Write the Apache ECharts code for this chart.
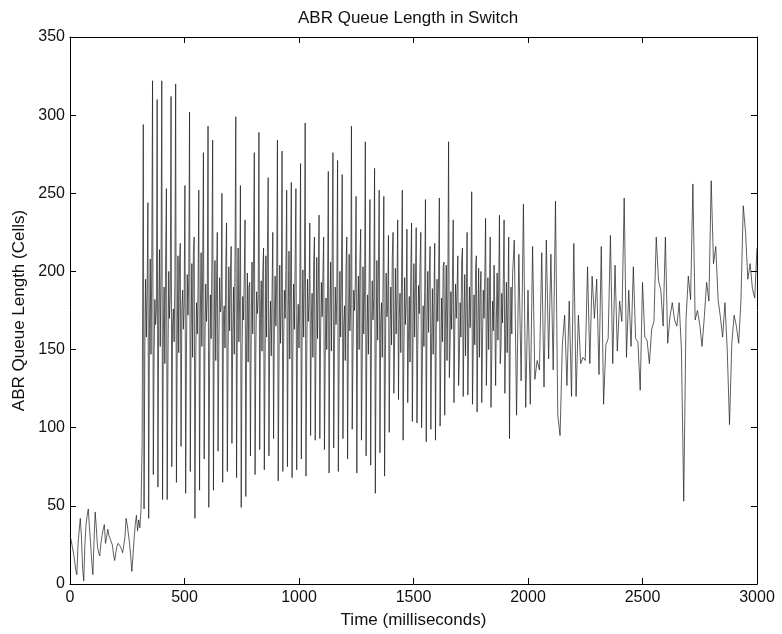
<!DOCTYPE html>
<html>
<head>
    <meta charset="utf-8">
    <title>ABR Queue Length in Switch</title>
    <script src="https://cdn.jsdelivr.net/npm/echarts@6/dist/echarts.min.js"></script>
    <style>
        * {
            margin: 0;
            padding: 0;
        }
        body, html {
            background: #fff;
        }
        #main {
            width: 782px;
            height: 634px;
        }
    </style>
</head>
<body>
<div id="main"></div>
<script>
    // start-up phase, one sample every 5 ms from 0 ms
    var START_STEP = 5;
    var startQueue = [
        31, 28, 24, 20, 15, 9, 6, 25, 34, 42,
        30, 10, 2, 25, 38, 44, 48, 36, 26, 14,
        6, 28, 46, 36, 24, 20, 18, 26, 31, 35,
        38, 26, 30, 35, 31, 29, 27, 25, 19, 15,
        20, 24, 26, 26, 24, 22, 20, 19, 30, 42,
        38, 32, 26, 18, 8, 18, 29, 38, 44, 34,
        41, 36, 47, 90
    ];

    // oscillating phase: each cycle = peak, trough, then four values jittering in the middle band
    var CYCLE_START = 320;
    var CYCLE_MS = 20.2;
    var cycleHigh = [
        294, 244, 322, 310, 322, 253, 312, 320, 218, 255,
        302, 222, 252, 276, 293, 284, 225, 250, 231, 216,
        299, 255, 233, 193, 276, 289, 215, 260, 225, 284,
        277, 252, 257, 253, 269, 295, 231, 222, 236, 222,
        264, 276, 271, 262, 222, 293, 248, 227, 283, 246,
        266, 252, 248, 223, 225, 233, 252, 227, 231, 228,
        225, 246, 216, 218, 247, 206, 283, 233, 210, 215,
        225, 251, 210, 200, 234, 222, 175, 236, 233, 222
    ];
    var cycleLow = [
        48, 42, 70, 62, 54, 54, 75, 65, 88, 58,
        72, 42, 60, 80, 49, 60, 85, 65, 72, 90,
        68, 49, 56, 82, 70, 86, 73, 82, 93, 66,
        72, 75, 68, 73, 80, 69, 95, 92, 93, 86,
        71, 87, 72, 93, 80, 99, 71, 92, 82, 76,
        58, 84, 69, 97, 122, 118, 92, 116, 104, 103,
        100, 91, 99, 92, 101, 108, 132, 116, 127, 120,
        121, 115, 110, 116, 127, 113, 127, 141, 122, 93
    ];
    var cycleMidA = [
        150, 162, 145, 170, 158, 140, 166, 152, 175, 148,
        160, 143, 171, 155, 138, 164, 150, 172, 146, 159,
        168, 141, 155, 163, 150, 170, 144, 158, 166, 139,
        152, 174, 147, 161, 156, 143, 169, 150, 160, 145,
        172, 153, 140, 165, 158, 148, 170, 144, 157, 163,
        151, 168, 142, 160, 155, 171, 146, 158, 164, 150,
        143, 167, 156, 160, 148, 172, 154, 162, 145, 169,
        158, 150, 166, 155, 161, 147, 170, 152, 160, 158
    ];
    var cycleMidB = [
        195, 208, 182, 214, 190, 200, 176, 210, 188, 198,
        205, 180, 212, 192, 185, 207, 196, 178, 203, 190,
        215, 184, 199, 206, 187, 194, 210, 181, 197, 204,
        188, 213, 192, 179, 201, 195, 186, 209, 193, 183,
        206, 190, 200, 178, 211, 188, 197, 203, 185, 194,
        207, 180, 199, 190, 202, 186, 196, 184, 205, 191,
        178, 200, 189, 195, 183, 204, 187, 192, 180, 198,
        190, 185, 202, 188, 196, 181, 199, 186, 193, 190
    ];
    var cycleMidC = [
        158, 147, 166, 152, 141, 170, 155, 148, 163, 172,
        145, 160, 152, 168, 157, 143, 174, 151, 162, 147,
        155, 169, 142, 160, 173, 149, 158, 146, 165, 154,
        170, 144, 163, 151, 158, 168, 145, 157, 171, 150,
        149, 166, 158, 143, 162, 175, 150, 160, 147, 169,
        156, 145, 171, 153, 160, 148, 166, 142, 158, 173,
        152, 161, 147, 168, 155, 143, 163, 170, 158, 146,
        164, 153, 145, 170, 150, 162, 156, 167, 148, 160
    ];
    var cycleMidD = [
        188, 202, 176, 198, 210, 185, 193, 205, 180, 196,
        212, 187, 199, 183, 206, 191, 178, 203, 195, 209,
        184, 197, 190, 206, 181, 199, 213, 186, 194, 178,
        201, 192, 208, 185, 197, 180, 204, 190, 199, 187,
        210, 183, 195, 203, 179, 192, 206, 188, 197, 184,
        201, 193, 178, 209, 186, 196, 182, 200, 191, 205,
        187, 198, 180, 194, 203, 185, 196, 189, 207, 182,
        193, 201, 186, 197, 184, 204, 190, 195, 181, 198
    ];

    // settling phase, one sample every 10 ms from 1940 ms
    var LATE_START = 1940;
    var LATE_STEP = 10;
    var lateQueue = [
        220, 108, 211, 130, 243, 113, 188, 115, 216, 131,
        143, 137, 212, 126, 220, 144, 211, 137, 245, 108,
        95, 153, 172, 127, 181, 120, 218, 120, 172, 141,
        145, 143, 203, 141, 197, 170, 195, 134, 216, 115,
        153, 157, 223, 141, 204, 149, 181, 168, 247, 145,
        188, 152, 203, 157, 155, 124,
        193, 158, 156, 141, 163, 168, 222, 194, 188, 165,
        222, 154, 171, 180, 169, 165, 180, 150, 53, 169,
        197, 182, 256, 169, 175, 166, 152, 171, 193, 181,
        258, 205, 216, 182, 171, 158, 180, 150, 102, 154,
        172, 165, 154, 182, 242, 225, 195, 205, 189, 183,
        215
    ];

    var points = [];
    for (var i = 0; i < startQueue.length; i++) {
        points.push([i * START_STEP, startQueue[i]]);
    }
    var phase = CYCLE_MS / 6;
    for (var k = 0; k < cycleHigh.length; k++) {
        var t0 = CYCLE_START + k * CYCLE_MS;
        var cycle = [cycleHigh[k], cycleLow[k], cycleMidA[k], cycleMidB[k], cycleMidC[k], cycleMidD[k]];
        for (var p = 0; p < cycle.length; p++) {
            points.push([t0 + p * phase, cycle[p]]);
        }
    }
    for (var j = 0; j < lateQueue.length; j++) {
        points.push([LATE_START + j * LATE_STEP, lateQueue[j]]);
    }

    var FONT = '"Liberation Sans", Arial, sans-serif';
    var tick = {show: true, inside: true, length: 6, lineStyle: {color: '#000', width: 1}};
    var line = {show: true, onZero: false, lineStyle: {color: '#000', width: 1}};
    var plain = function (v) { return String(v); };

    var chart = echarts.init(document.getElementById('main'), null, {renderer: 'canvas'});
    var option = {
        animation: false,
        backgroundColor: '#fff',
        title: {
            text: 'ABR Queue Length in Switch',
            left: 293,
            top: 5,
            textStyle: {fontFamily: FONT, fontSize: 17, fontWeight: 'normal', color: '#111'}
        },
        grid: {left: 70, right: 25, top: 37, bottom: 49},
        xAxis: [
            {
                type: 'value', min: 0, max: 3000, interval: 500,
                name: 'Time (milliseconds)', nameLocation: 'middle', nameGap: 28,
                nameTextStyle: {fontFamily: FONT, fontSize: 17, color: '#111'},
                axisLine: line, axisTick: tick, splitLine: {show: false},
                axisLabel: {fontFamily: FONT, fontSize: 16, color: '#111', margin: 6, formatter: plain}
            },
            {
                type: 'value', min: 0, max: 3000, interval: 500, position: 'top',
                axisLine: line, axisTick: tick, splitLine: {show: false},
                axisLabel: {show: false}
            }
        ],
        yAxis: [
            {
                type: 'value', min: 0, max: 350, interval: 50,
                name: 'ABR Queue Length (Cells)', nameLocation: 'middle', nameGap: 33,
                nameTextStyle: {fontFamily: FONT, fontSize: 17, color: '#111'},
                axisLine: line, axisTick: tick, splitLine: {show: false},
                axisLabel: {fontFamily: FONT, fontSize: 16, color: '#111', margin: 5, formatter: plain}
            },
            {
                type: 'value', min: 0, max: 350, interval: 50, position: 'right',
                axisLine: line, axisTick: tick, splitLine: {show: false},
                axisLabel: {show: false}
            }
        ],
        series: [
            {
                name: 'ABR queue',
                type: 'line',
                data: points,
                showSymbol: false,
                sampling: null,
                lineStyle: {color: '#1a1a1a', width: 0.7}
            }
        ]
    };
    chart.setOption(option);
</script>
</body>
</html>
